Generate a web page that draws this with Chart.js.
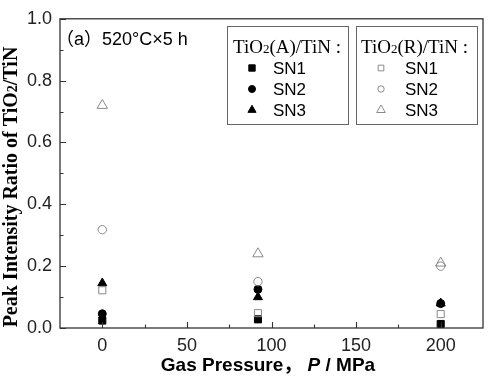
<!DOCTYPE html>
<html><head><meta charset="utf-8">
<script src="https://cdn.jsdelivr.net/npm/chart.js@4.4.1/dist/chart.umd.min.js"></script>
<style>html,body{margin:0;padding:0;background:#fff}#wrap{width:500px;height:381px;position:relative}</style>
</head><body><div id="wrap"><canvas id="c" width="500" height="381"></canvas></div>
<script>
const pressures = [0, 92, 200];
const anataseSN1 = [0.024, 0.028, 0.013];
const anataseSN2 = [0.046, 0.125, 0.079];
const anataseSN3 = [0.145, 0.100, 0.080];
const rutileSN1 = [0.122, 0.048, 0.045];
const rutileSN2 = [0.318, 0.150, 0.200];
const rutileSN3 = [0.720, 0.240, 0.210];
const xTicks = [0, 50, 100, 150, 200];
const xMinorTicks = [25, 75, 125, 175];
const yTicks = [0, 0.2, 0.4, 0.6, 0.8, 1.0];
const yMinorTicks = [0.1, 0.3, 0.5, 0.7, 0.9];
const seriesNames = ['SN1', 'SN2', 'SN3'];
const legendTitleA = [['TiO', 0], ['2', 1], ['(A)/TiN', 0], [' :', 0]];
const legendTitleR = [['TiO', 0], ['2', 1], ['(R)/TiN', 0], [' :', 0]];
const annotation = '\uFF08a\uFF09520\u00B0C\u00D75 h';
const yTitle = [['Peak Intensity Ratio of TiO', 0], ['2', 1], ['/TiN', 0]];

const FILL = '#000';
const OPEN = '#8a8a8a';
const styles = ['rect', 'circle', 'triangle'];
const radii = [5, 4, 5.2];
const openRadii = [5, 4.2, 6];

function pts(arr) { return arr.map((v, i) => ({x: pressures[i], y: v})); }

const datasets = [
  {label: 'R SN1', data: pts(rutileSN1), pointStyle: styles[0], pointRadius: openRadii[0], borderColor: OPEN, backgroundColor: 'rgba(255,255,255,0)', pointBorderWidth: 1},
  {label: 'R SN2', data: pts(rutileSN2), pointStyle: styles[1], pointRadius: openRadii[1], borderColor: OPEN, backgroundColor: 'rgba(255,255,255,0)', pointBorderWidth: 1},
  {label: 'R SN3', data: pts(rutileSN3), pointStyle: styles[2], pointRadius: openRadii[2], borderColor: OPEN, backgroundColor: 'rgba(255,255,255,0)', pointBorderWidth: 1},
  {label: 'A SN1', data: pts(anataseSN1), pointStyle: styles[0], pointRadius: radii[0], borderColor: FILL, backgroundColor: FILL, pointBorderWidth: 1},
  {label: 'A SN2', data: pts(anataseSN2), pointStyle: styles[1], pointRadius: radii[1], borderColor: FILL, backgroundColor: FILL, pointBorderWidth: 1},
  {label: 'A SN3', data: pts(anataseSN3), pointStyle: styles[2], pointRadius: radii[2], borderColor: FILL, backgroundColor: FILL, pointBorderWidth: 1}
];

function drawMarker(ctx, style, r, x, y, filled) {
  ctx.save();
  ctx.lineWidth = 1;
  ctx.strokeStyle = filled ? FILL : OPEN;
  ctx.fillStyle = filled ? FILL : 'rgba(255,255,255,0)';
  if (Chart.helpers && Chart.helpers.drawPoint) {
    Chart.helpers.drawPoint(ctx, {pointStyle: style, radius: r, rotation: 0, borderWidth: 1}, x, y);
  }
  ctx.restore();
}

function richWidth(ctx, parts, fonts) {
  let w = 0;
  parts.forEach(p => { ctx.font = fonts[p[1]]; w += ctx.measureText(p[0]).width; });
  return w;
}
function richDraw(ctx, parts, fonts, x, y) {
  ctx.textAlign = 'left';
  ctx.textBaseline = 'alphabetic';
  parts.forEach(p => { ctx.font = fonts[p[1]]; ctx.fillText(p[0], x, y); x += ctx.measureText(p[0]).width; });
}

const decor = {
  id: 'decor',
  afterDraw(chart) {
    const ctx = chart.ctx;
    const a = chart.chartArea;
    const xs = chart.scales.x, ys = chart.scales.y;
    ctx.save();
    ctx.strokeStyle = '#333';
    ctx.lineWidth = 1.3;
    ctx.strokeRect(a.left, a.top, a.right - a.left, a.bottom - a.top);
    ctx.lineWidth = 1.1;
    ctx.beginPath();
    xTicks.forEach(v => { const px = Math.round(xs.getPixelForValue(v)) + 0.5; ctx.moveTo(px, a.bottom); ctx.lineTo(px, a.bottom - 6); });
    xMinorTicks.forEach(v => { const px = Math.round(xs.getPixelForValue(v)) + 0.5; ctx.moveTo(px, a.bottom); ctx.lineTo(px, a.bottom - 3.5); });
    yTicks.forEach(v => { const py = Math.round(ys.getPixelForValue(v)) + 0.5; ctx.moveTo(a.left, py); ctx.lineTo(a.left + 6, py); });
    yMinorTicks.forEach(v => { const py = Math.round(ys.getPixelForValue(v)) + 0.5; ctx.moveTo(a.left, py); ctx.lineTo(a.left + 3.5, py); });
    ctx.stroke();

    ctx.fillStyle = '#000';
    ctx.save();
    ctx.translate(17, 187);
    ctx.rotate(-Math.PI / 2);
    const yFonts = ['bold 20px "Liberation Serif", "Times New Roman", serif', 'bold 14px "Liberation Serif", "Times New Roman", serif'];
    const yw = richWidth(ctx, yTitle, yFonts);
    richDraw(ctx, yTitle, yFonts, -yw / 2, 0);
    ctx.restore();

    const parts = [
      {t: 'Gas Pressure\uFF0C', f: 'bold 19px "Liberation Sans", Arial, "Noto Sans CJK SC", sans-serif'},
      {t: ' ', f: 'bold 19px "Liberation Sans", Arial, sans-serif'},
      {t: 'P', f: 'italic bold 19px "Liberation Sans", Arial, sans-serif'},
      {t: ' / MPa', f: 'bold 19px "Liberation Sans", Arial, sans-serif'}
    ];
    let total = 0;
    parts.forEach(p => { ctx.font = p.f; p.w = ctx.measureText(p.t).width; total += p.w; });
    let cx = 268 - total / 2;
    ctx.textBaseline = 'middle';
    ctx.textAlign = 'left';
    parts.forEach(p => { ctx.font = p.f; ctx.fillText(p.t, cx, 366); cx += p.w; });

    ctx.font = '18px "Liberation Sans", Arial, "Noto Sans CJK SC", sans-serif';
    ctx.textBaseline = 'middle';
    ctx.fillText(annotation, 56, 40);

    ctx.strokeStyle = '#666';
    ctx.lineWidth = 1;
    ctx.strokeRect(227.5, 26.5, 121, 98);
    ctx.strokeRect(356.5, 26.5, 121, 98);
    const lFonts = ['19px "Liberation Serif", "Times New Roman", serif', '13px "Liberation Serif", "Times New Roman", serif'];
    richDraw(ctx, legendTitleA, lFonts, 233, 53);
    richDraw(ctx, legendTitleR, lFonts, 361, 53);
    const rows = [68, 89, 110];
    ctx.font = '17px "Liberation Sans", Arial, sans-serif';
    ctx.textBaseline = 'middle';
    seriesNames.forEach((n, i) => {
      drawMarker(ctx, styles[i], radii[i] - 0.5, 252, rows[i], true);
      drawMarker(ctx, styles[i], openRadii[i] - 1, 381, rows[i], false);
      ctx.fillStyle = '#000';
      ctx.fillText(n, 273, rows[i] + 1);
      ctx.fillText(n, 405, rows[i] + 1);
    });
    ctx.restore();
  }
};

new Chart(document.getElementById('c'), {
  type: 'scatter',
  data: {datasets},
  options: {
    responsive: false,
    animation: false,
    events: [],
    layout: {padding: {left: 0, right: 17, top: 16, bottom: 0}},
    plugins: {legend: {display: false}, tooltip: {enabled: false}},
    scales: {
      x: {
        type: 'linear', min: -25, max: 225,
        afterBuildTicks: s => { s.ticks = xTicks.map(v => ({value: v})); },
        afterFit: s => { s.height = 53; },
        grid: {display: false, drawTicks: false},
        border: {display: false},
        ticks: {color: '#222', padding: 7, font: {family: '"Liberation Sans", Arial, sans-serif', size: 18}, callback: v => String(v)}
      },
      y: {
        type: 'linear', min: 0, max: 1,
        afterBuildTicks: s => { s.ticks = yTicks.map(v => ({value: v})); },
        afterFit: s => { s.width = 60; },
        grid: {display: false, drawTicks: false},
        border: {display: false},
        ticks: {color: '#222', padding: 8, font: {family: '"Liberation Sans", Arial, sans-serif', size: 18}, callback: v => Number(v).toFixed(1)}
      }
    }
  },
  plugins: [decor]
});
</script></body></html>
